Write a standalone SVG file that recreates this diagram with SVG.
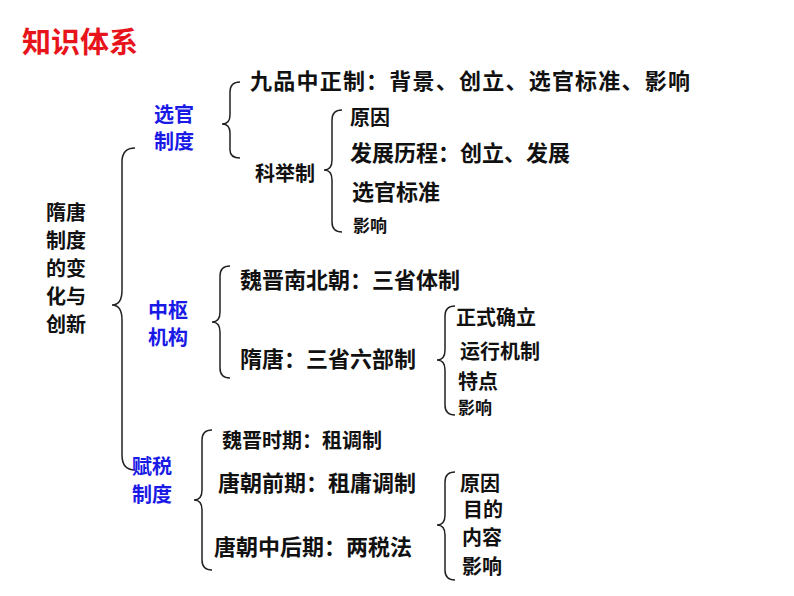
<svg xmlns="http://www.w3.org/2000/svg" width="794" height="596" viewBox="0 0 794 596">
<style>
.t{font-family:"Noto Sans CJK SC","Liberation Sans",sans-serif;font-weight:bold;font-size:22px;fill:#111}
.s{font-size:17px}
.m{font-size:20px}
.b{fill:#1a1ae6}
.br{fill:none;stroke:#222;stroke-width:1.5}
</style>
<rect width="794" height="596" fill="#fff"/>
<text x="22" y="53" class="t" style="fill:#e8141b;font-size:29px">知识体系</text>
<g id="root" class="t m"><text x="46" y="220">隋唐</text><text x="46" y="248">制度</text><text x="46" y="276">的变</text><text x="46" y="304">化与</text><text x="46" y="332">创新</text></g>
<g id="connectors">
<path class="br" d="M135,148 Q122,148 122,162 L122,290 Q122,305 112,305 Q122,305 122,320 L122,455 Q122,470 135,470"/>
<path class="br" d="M240,82 Q230,82 230,92 L230,115 Q230,124 222,124 Q230,124 230,133 L230,150 Q230,158 240,158"/>
<path class="br" d="M342,110 Q332,110 332,120 L332,160 Q332,170 324,170 Q332,170 332,180 L332,222 Q332,232 342,232"/>
<path class="br" d="M230,266 Q220,266 220,276 L220,312 Q220,322 212,322 Q220,322 220,332 L220,368 Q220,378 230,378"/>
<path class="br" d="M455,306 Q445,306 445,316 L445,350 Q445,360 437,360 Q445,360 445,370 L445,405 Q445,415 455,415"/>
<path class="br" d="M212,430 Q202,430 202,440 L202,490 Q202,500 194,500 Q202,500 202,510 L202,560 Q202,570 212,570"/>
<path class="br" d="M455,472 Q445,472 445,482 L445,515 Q445,525 437,525 Q445,525 445,535 L445,570 Q445,580 455,580"/>
</g>
<g id="xg"><text x="154" y="122" class="t b m">选官</text><text x="154" y="149" class="t b m">制度</text></g>
<g id="jp"><text x="250" y="89" class="t" textLength="440">九品中正制：背景、创立、选官标准、影响</text></g>
<g id="kj"><text x="255" y="181" class="t m">科举制</text></g>
<g id="kjsub"><text x="350" y="125" class="t m">原因</text><text x="350" y="161" class="t">发展历程：创立、发展</text><text x="352" y="200" class="t">选官标准</text><text x="353" y="232" class="t s">影响</text></g>
<g id="zs"><text x="148" y="318" class="t b m">中枢</text><text x="148" y="345" class="t b m">机构</text></g>
<g id="wj"><text x="240" y="288" class="t">魏晋南北朝：三省体制</text></g>
<g id="st"><text x="240" y="367" class="t">隋唐：三省六部制</text></g>
<g id="stsub"><text x="456" y="325" class="t m">正式确立</text><text x="460" y="359" class="t m">运行机制</text><text x="458" y="389" class="t m">特点</text><text x="458" y="414" class="t s">影响</text></g>
<g id="fs"><text x="132" y="474" class="t b m">赋税</text><text x="132" y="502" class="t b m">制度</text></g>
<g id="f1"><text x="222" y="448" class="t m">魏晋时期：租调制</text></g>
<g id="f2"><text x="218" y="491" class="t">唐朝前期：租庸调制</text></g>
<g id="f3"><text x="214" y="555" class="t">唐朝中后期：两税法</text></g>
<g id="f3sub"><text x="460" y="491" class="t m">原因</text><text x="463" y="517" class="t m">目的</text><text x="462" y="545" class="t m">内容</text><text x="462" y="574" class="t m">影响</text></g>
</svg>
